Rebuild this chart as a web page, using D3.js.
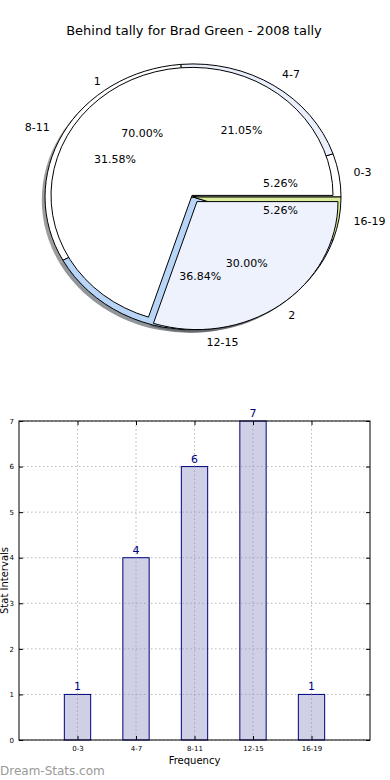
<!DOCTYPE html>
<html><head><meta charset="utf-8">
<script src="https://cdn.jsdelivr.net/npm/d3@7"></script>
<style>
body{margin:0;background:#fff;}
svg text{font-family:"DejaVu Sans",sans-serif;}
</style></head>
<body>
<svg id="chart" width="390" height="780"></svg>
<script>
// ---- data ----
const title = "Behind tally for Brad Green - 2008 tally";
const intervalLabels = ["0-3","4-7","8-11","12-15","16-19"];
const intervalCounts = [1,4,6,7,1];
const intervalColors = ["#ffffff","#e9effb","#ffffff","#b8d4f7","#d8ec9a"];
const tallyLabels = ["1","2"];
const tallyValues = [7,3];
const tallyColors = ["#ffffff","#edf2fd"];
const yTicks = [0,1,2,3,4,5,6,7];

const svg = d3.select("#chart");

svg.append("text").attr("x",194).attr("y",35).attr("text-anchor","middle")
  .attr("font-size",13).text(title);

// ---- pies ----
function makePie(){ return d3.pie().sort(null).value(d=>d).startAngle(Math.PI/2).endAngle(Math.PI/2-2*Math.PI); }
const unitArc = d3.arc().innerRadius(0).outerRadius(1);
const pctArc = d3.arc().innerRadius(0.6).outerRadius(0.6);
const lblArc = d3.arc().innerRadius(1.1).outerRadius(1.1);

const shadowLayer = svg.append("g");
const wedgeLayer = svg.append("g");
const textLayer = svg.append("g");

function drawPie(values, labels, colors, cx, cy, rx, ry, explode){
  const arcs = makePie()(values);
  const total = d3.sum(values);
  arcs.forEach((d,i)=>{
    const mid = (d.startAngle+d.endAngle)/2;
    const ox = Math.sin(mid)*explode*rx, oy = -Math.cos(mid)*explode*ry;
    const x0 = cx+ox, y0 = cy+oy;
    const c = d3.rgb(colors[i]);
    shadowLayer.append("path")
      .attr("transform",`translate(${x0-0.022*rx},${y0+0.022*ry}) scale(${rx},${ry})`)
      .attr("d",unitArc(d))
      .attr("fill",d3.rgb(c.r*0.3,c.g*0.3,c.b*0.3)).attr("fill-opacity",0.55);
    wedgeLayer.append("path")
      .attr("transform",`translate(${x0},${y0}) scale(${rx},${ry})`)
      .attr("d",unitArc(d))
      .attr("fill",colors[i]).attr("stroke","#000").attr("stroke-width",1)
      .attr("stroke-linejoin","miter")
      .attr("vector-effect","non-scaling-stroke");
    const pc = pctArc.centroid(d);
    textLayer.append("text").attr("x",x0+pc[0]*rx).attr("y",y0+pc[1]*ry)
      .attr("text-anchor","middle").attr("dominant-baseline","central")
      .attr("font-size",11).text((d.value/total*100).toFixed(2)+"%");
    const lc = lblArc.centroid(d);
    textLayer.append("text").attr("x",x0+lc[0]*rx).attr("y",y0+lc[1]*ry)
      .attr("text-anchor", lc[0]>0?"start":"end").attr("dominant-baseline","central")
      .attr("font-size",11).text(labels[i]);
  });
}
drawPie(intervalCounts, intervalLabels, intervalColors, 193, 197, 148, 133, 0);
drawPie(tallyValues, tallyLabels, tallyColors, 194.5, 198.5, 141, 128, 0.03);

// ---- bar chart ----
const L=19, R=370, T=421, B=740;
const x = d3.scaleLinear().domain([0,6]).range([L,R]);
const y = d3.scaleLinear().domain([0,7]).range([B,T]);
const bw = x(0.45)-x(0);
const g = svg.append("g");

g.selectAll(".hg").data(yTicks).join("line")
  .attr("x1",L).attr("x2",R).attr("y1",d=>y(d)).attr("y2",d=>y(d))
  .attr("stroke","#b8b8b8").attr("stroke-dasharray","1.5,2.5");
g.selectAll(".vg").data(intervalLabels).join("line")
  .attr("x1",(d,i)=>x(i+1)).attr("x2",(d,i)=>x(i+1)).attr("y1",T).attr("y2",B)
  .attr("stroke","#b8b8b8").attr("stroke-dasharray","1.5,2.5");

g.selectAll(".bar").data(intervalCounts).join("rect")
  .attr("x",(d,i)=>x(i+1)-bw/2).attr("width",bw)
  .attr("y",d=>y(d)).attr("height",d=>B-y(d))
  .attr("fill","#cfcfe6").attr("stroke","#000080").attr("stroke-width",1);
g.selectAll(".vg2").data(intervalLabels).join("line")
  .attr("x1",(d,i)=>x(i+1)).attr("x2",(d,i)=>x(i+1))
  .attr("y1",(d,i)=>y(intervalCounts[i])).attr("y2",B)
  .attr("stroke","#a8a8b8").attr("stroke-dasharray","1.5,2.5");
g.selectAll(".hg2").data(intervalCounts).join("g").each(function(v,i){
  d3.select(this).selectAll("line").data(yTicks.filter(t=>t>0&&t<v)).join("line")
    .attr("x1",x(i+1)-bw/2+1).attr("x2",x(i+1)+bw/2-1).attr("y1",t=>y(t)).attr("y2",t=>y(t))
    .attr("stroke","#a8a8b8").attr("stroke-dasharray","1.5,2.5");
});

g.selectAll(".vl").data(intervalCounts).join("text")
  .attr("x",(d,i)=>x(i+1)).attr("y",d=>y(d)-4)
  .attr("text-anchor","middle").attr("font-size",11).attr("fill","#000080").text(d=>d);

g.append("rect").attr("x",L).attr("y",T).attr("width",R-L).attr("height",B-T)
  .attr("fill","none").attr("stroke","#000").attr("stroke-width",1);

const yAxisL = d3.axisLeft(y).tickValues(yTicks).tickSize(-4).tickPadding(5).tickFormat(d3.format("d"));
const yAxisR = d3.axisRight(y).tickValues(yTicks).tickSize(-4).tickFormat("");
const xAxisB = d3.axisBottom(x).tickValues([1,2,3,4,5]).tickSize(-4).tickPadding(6)
  .tickFormat(d=>intervalLabels[d-1]);
const xAxisT = d3.axisTop(x).tickValues([1,2,3,4,5]).tickSize(-4).tickFormat("");
function style(sel){ sel.select(".domain").remove(); sel.selectAll("text").attr("font-size",7).attr("fill","#000").attr("font-family","DejaVu Sans"); sel.selectAll("line").attr("stroke","#000"); }
g.append("g").attr("transform",`translate(${L},0)`).call(yAxisL).call(style);
g.append("g").attr("transform",`translate(${R},0)`).call(yAxisR).call(style);
g.append("g").attr("transform",`translate(0,${B})`).call(xAxisB).call(style);
g.append("g").attr("transform",`translate(0,${T})`).call(xAxisT).call(style);

svg.append("text").attr("x",(L+R)/2).attr("y",764).attr("text-anchor","middle")
  .attr("font-size",10).text("Frequency");
svg.append("text").attr("transform",`translate(7.5,${(T+B)/2}) rotate(-90)`)
  .attr("text-anchor","middle").attr("font-size",10).text("Stat Intervals");

svg.append("text").attr("x",0).attr("y",775).attr("font-size",12)
  .attr("fill","#999").text("Dream-Stats.com");
</script>
</body></html>
